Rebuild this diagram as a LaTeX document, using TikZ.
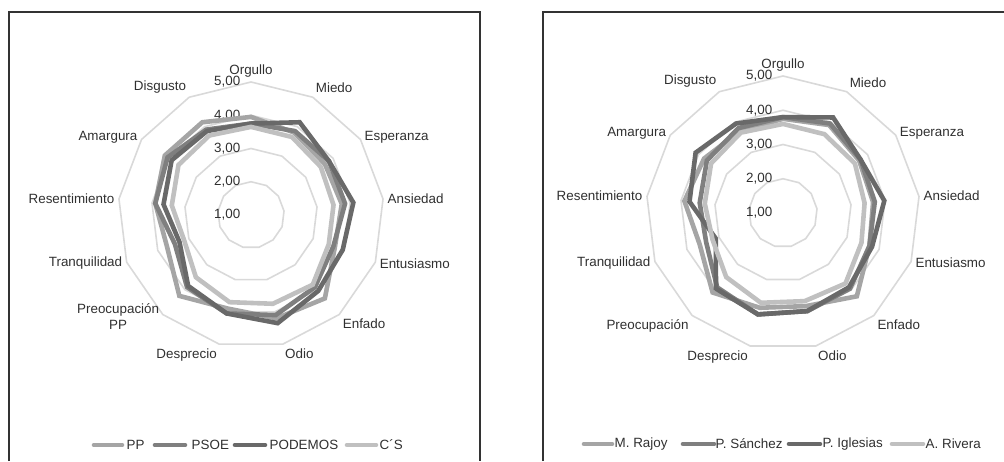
\documentclass[tikz,border=0pt]{standalone}
\usepackage{fontspec}
\setmainfont{Liberation Sans}
\usetikzlibrary{positioning}
\definecolor{gridgray}{HTML}{D9D9D9}
\definecolor{labelgray}{HTML}{303030}
\definecolor{serA}{HTML}{A5A5A5}
\definecolor{serB}{HTML}{7F7F7F}
\definecolor{serC}{HTML}{696969}
\definecolor{serD}{HTML}{C0C0C0}

\begin{document}
\begin{tikzpicture}[x=1pt,y=1pt,
  every node/.style={font=\fontsize{13.4}{15.5}\selectfont,text=labelgray,inner sep=1.5pt},
  ring/.style={draw=gridgray,line width=1.6pt},
  series/.style={line width=4.6pt},
  legline/.style={line width=4.6pt,line cap=round},
  frame/.style={draw=black!80,line width=1.4pt}]

\useasboundingbox (0,0) rectangle (1004,461);
\draw[frame] (9,0) -- (9,449) -- (480,449) -- (480,0);
\draw[frame] (543,0) -- (543,449) -- (1004,449);

\begin{scope}[shift={(251,246)}]
\foreach \r in {1,...,4}
  \draw[ring] (90:\r*33.25) \foreach \k in {1,...,12}{ -- (90-\k*360/13:\r*33.25)} -- cycle;
\foreach \r in {0,...,4}
  \node[anchor=east] (lv\r) at (-9,\r*33.25) {\the\numexpr\r+1\relax,00};
\foreach \k/\t/\a in {0/Orgullo/south, 1/Miedo/south west, 2/Esperanza/west, 3/Ansiedad/west,
    4/Entusiasmo/west, 5/Enfado/north west, 6/Odio/north west, 7/Desprecio/north east,
    8/{Preocupación\\PP}/east, 9/Tranquilidad/east, 10/Resentimiento/east,
    11/Amargura/east, 12/Disgusto/south east}
  \node[anchor=\a,align=center] (lc\k) at (90-\k*360/13:136) {\t};

\foreach \v [count=\k from 0] in {3.95,3.8,3.7,3.75,3.7,4.35,4.2,3.9,4.25,3.7,3.9,4.15,4.15}
  \coordinate (pp\k) at (90-\k*360/13:{(\v-1)*33.25});
\foreach \v [count=\k from 0] in {3.75,3.85,3.85,3.85,3.65,3.9,4.1,4.05,3.9,3.45,3.9,4.05,3.9}
  \coordinate (psoe\k) at (90-\k*360/13:{(\v-1)*33.25});
\foreach \v [count=\k from 0] in {3.75,4.15,3.85,4.1,3.95,4.05,4.35,4.05,3.85,3.3,3.65,3.9,3.85}
  \coordinate (pod\k) at (90-\k*360/13:{(\v-1)*33.25});
\foreach \v [count=\k from 0] in {3.65,3.65,3.55,3.5,3.5,3.8,3.75,3.7,3.5,3.15,3.4,3.65,3.7}
  \coordinate (cs\k) at (90-\k*360/13:{(\v-1)*33.25});
\draw[series,serA] (pp0) \foreach \k in {1,...,12}{ -- (pp\k)} -- cycle;
\draw[series,serB] (psoe0) \foreach \k in {1,...,12}{ -- (psoe\k)} -- cycle;
\draw[series,serC] (pod0) \foreach \k in {1,...,12}{ -- (pod\k)} -- cycle;
\draw[series,serD] (cs0) \foreach \k in {1,...,12}{ -- (cs\k)} -- cycle;
\end{scope}

\begin{scope}[shift={(783,248)}]
\foreach \r in {1,...,4}
  \draw[ring] (90:\r*34.25) \foreach \k in {1,...,12}{ -- (90-\k*360/13:\r*34.25)} -- cycle;
\foreach \r in {0,...,4}
  \node[anchor=east] (rv\r) at (-9,\r*34.25) {\the\numexpr\r+1\relax,00};
\foreach \k/\t/\a in {0/Orgullo/south, 1/Miedo/south west, 2/Esperanza/west, 3/Ansiedad/west,
    4/Entusiasmo/west, 5/Enfado/north west, 6/Odio/north west, 7/Desprecio/north east,
    8/Preocupación/north east, 9/Tranquilidad/east, 10/Resentimiento/east,
    11/Amargura/east, 12/Disgusto/south east}
  \node[anchor=\a] (rc\k) at (90-\k*360/13:140) {\t};

\foreach \v [count=\k from 0] in {3.75,3.9,3.7,3.65,3.7,4.25,3.8,3.85,4.1,3.6,3.9,3.8,3.7}
  \coordinate (raj\k) at (90-\k*360/13:{(\v-1)*34.25});
\foreach \v [count=\k from 0] in {3.8,3.95,3.75,3.7,3.7,3.95,3.95,4.05,3.9,3.4,3.45,3.7,3.8}
  \coordinate (san\k) at (90-\k*360/13:{(\v-1)*34.25});
\foreach \v [count=\k from 0] in {3.8,4.15,3.75,3.98,3.78,3.9,3.95,4.05,3.95,3.1,3.75,4.1,3.95}
  \coordinate (igl\k) at (90-\k*360/13:{(\v-1)*34.25});
\foreach \v [count=\k from 0] in {3.6,3.6,3.55,3.4,3.45,3.75,3.65,3.7,3.5,3.2,3.3,3.55,3.65}
  \coordinate (riv\k) at (90-\k*360/13:{(\v-1)*34.25});
\draw[series,serA] (raj0) \foreach \k in {1,...,12}{ -- (raj\k)} -- cycle;
\draw[series,serB] (san0) \foreach \k in {1,...,12}{ -- (san\k)} -- cycle;
\draw[series,serC] (igl0) \foreach \k in {1,...,12}{ -- (igl\k)} -- cycle;
\draw[series,serD] (riv0) \foreach \k in {1,...,12}{ -- (riv\k)} -- cycle;
\end{scope}

\coordinate (lgA) at (94,16);
\coordinate (lgB) at (155,16);
\coordinate (lgC) at (235,16);
\coordinate (lgD) at (347,16);
\draw[legline,serA] (lgA) -- ++(28,0) coordinate (lgAe);
\draw[legline,serB] (lgB) -- ++(30,0) coordinate (lgBe);
\draw[legline,serC] (lgC) -- ++(30,0) coordinate (lgCe);
\draw[legline,serD] (lgD) -- ++(29,0) coordinate (lgDe);
\node[right=3pt of lgAe] (tPP) {PP};
\node[right=5pt of lgBe] (tPSOE) {PSOE};
\node[right=3pt of lgCe] (tPOD) {PODEMOS};
\node[right=2pt of lgDe] (tCS) {C´S};

\coordinate (lgE) at (584,17);
\coordinate (lgF) at (683,17);
\coordinate (lgG) at (789,17);
\coordinate (lgH) at (892,17);
\draw[legline,serA] (lgE) -- ++(28,0) coordinate (lgEe);
\draw[legline,serB] (lgF) -- ++(31,0) coordinate (lgFe);
\draw[legline,serC] (lgG) -- ++(31,0) coordinate (lgGe);
\draw[legline,serD] (lgH) -- ++(31,0) coordinate (lgHe);
\node[right=1pt of lgEe] (tRaj) {M. Rajoy};
\node[right=0pt of lgFe] (tSan) {P. Sánchez};
\node[right=1pt of lgGe] (tIgl) {P. Iglesias};
\node[right=1pt of lgHe] (tRiv) {A. Rivera};
\end{tikzpicture}
\end{document}
